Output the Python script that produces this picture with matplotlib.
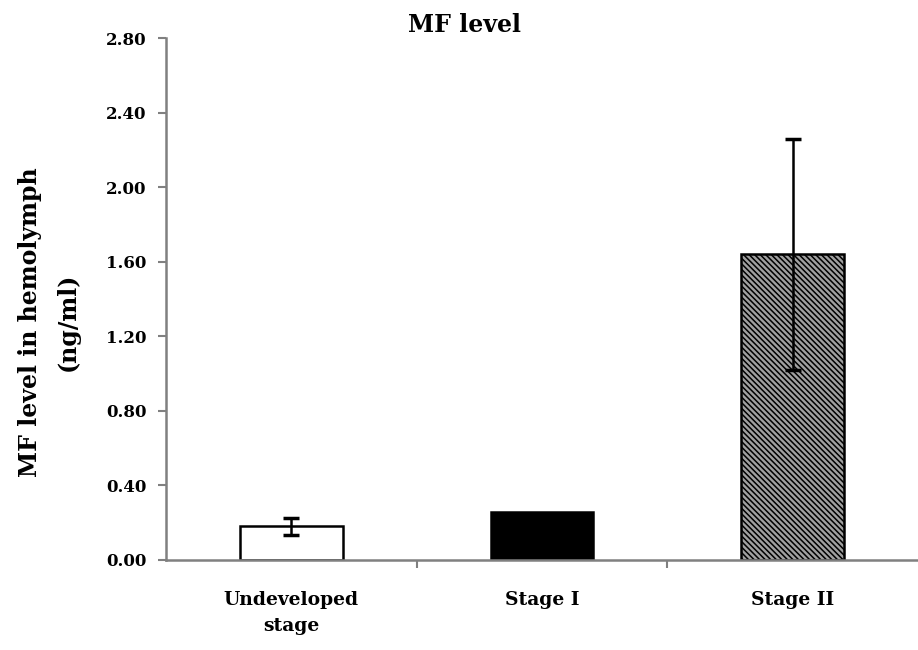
import matplotlib
matplotlib.use("Agg")
import matplotlib.pyplot as plt

categories = ["Undeveloped\nstage", "Stage I", "Stage II"]
values = [0.18, 0.26, 1.64]
errors = [0.045, 0.0, 0.62]
yticks = [0.0, 0.4, 0.8, 1.2, 1.6, 2.0, 2.4, 2.8]

plt.rcParams['font.family'] = ['DejaVu Serif']
plt.rcParams['hatch.linewidth'] = 1.1

fig = plt.figure(figsize=(9.18, 6.5), dpi=100)
ax = fig.add_axes([166/918, 90/650, 752/918, 522/650])

x = list(range(len(categories)))
faces = ["white", "black", "#a0a0a0"]
hatches = [None, None, "\\\\\\\\\\\\"]
for i in x:
    ax.bar(i, values[i], width=0.41, color=faces[i], edgecolor="black",
           linewidth=1.8, hatch=hatches[i], zorder=2)
for i in x:
    if errors[i] > 0:
        ax.errorbar(i, values[i], yerr=errors[i], fmt="none", ecolor="black",
                    elinewidth=1.8, capsize=6, capthick=2.5, zorder=3)

ax.set_xlim(-0.5, 2.5)
ax.set_ylim(0, 2.8)
ax.set_yticks(yticks)
ax.set_yticklabels([f"{v:.2f}" for v in yticks], fontsize=12, fontweight="bold")
ax.set_xticks(x)
ax.set_xticklabels(categories, fontsize=13.5, fontweight="bold", linespacing=1.6)
ax.tick_params(axis="x", length=0, pad=22)
ax.set_xticks([0.5, 1.5], minor=True)
ax.tick_params(axis="x", which="minor", length=6, color="#808080", width=1.5)
ax.tick_params(axis="y", length=6, color="#808080", width=1.5, pad=8)

for s in ["top", "right"]:
    ax.spines[s].set_visible(False)
for s in ["left", "bottom"]:
    ax.spines[s].set_color("#808080")
    ax.spines[s].set_linewidth(1.8)

fig.text(465/918, 1 - 25/650, "MF level", fontsize=17, fontweight="bold",
         ha="center", va="center")
fig.text(49/918, 1 - 322/650, "MF level in hemolymph\n(ng/ml)", fontsize=17,
         fontweight="bold", ha="center", va="center", rotation=90, linespacing=1.75)

fig.savefig("out.png", dpi=100)
